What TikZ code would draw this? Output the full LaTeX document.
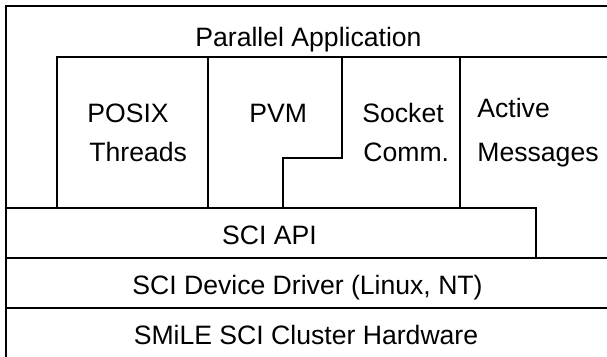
\documentclass[tikz,border=0pt]{standalone}
\usepackage{fontspec}
\setmainfont{Liberation Sans}
\begin{document}
\begin{tikzpicture}[x=0.5pt,y=-0.5pt,
  edge/.style={line width=0.9pt,line cap=rect},
  lbl/.style={font=\fontsize{13.3}{16}\selectfont,inner sep=0pt,anchor=base west}]
\useasboundingbox (0,0) rectangle (607,357);
% outer application frame
\draw[edge] (6,357) -- (6,6) -- (607,6);
% top of the API boxes
\draw[edge] (57,208) -- (57,57) -- (607,57);
% POSIX / PVM divider
\draw[edge] (208,57) -- (208,208);
% stepped border between PVM and sockets
\draw[edge] (342,57) -- (342,158) -- (283,158) -- (283,208);
% Active Messages divider
\draw[edge] (460,57) -- (460,208);
% SCI API box
\draw[edge] (6,208) -- (536,208) -- (536,258);
% device driver and hardware layers
\draw[edge] (6,258) -- (607,258);
\draw[edge] (6,308) -- (607,308);
% labels
\node[lbl,anchor=base] (app) at (308.5,47) {Parallel Application};
\node[lbl] (posix) at (87,123) {POSIX};
\node[lbl] (thr) at (89,162) {Threads};
\node[lbl] (pvm) at (249,123) {PVM};
\node[lbl] (sock) at (362,123) {Socket};
\node[lbl] (comm) at (363,162) {Comm.};
\node[lbl] (act) at (477,118) {Active};
\node[lbl] (msg) at (477,162) {Messages};
\node[lbl,anchor=base] (api) at (269.5,245) {SCI API};
\node[lbl,anchor=base] (drv) at (307.5,295) {SCI Device Driver (Linux, NT)};
\node[lbl,anchor=base] (hw) at (306,345) {SMiLE SCI Cluster Hardware};
\end{tikzpicture}
\end{document}
